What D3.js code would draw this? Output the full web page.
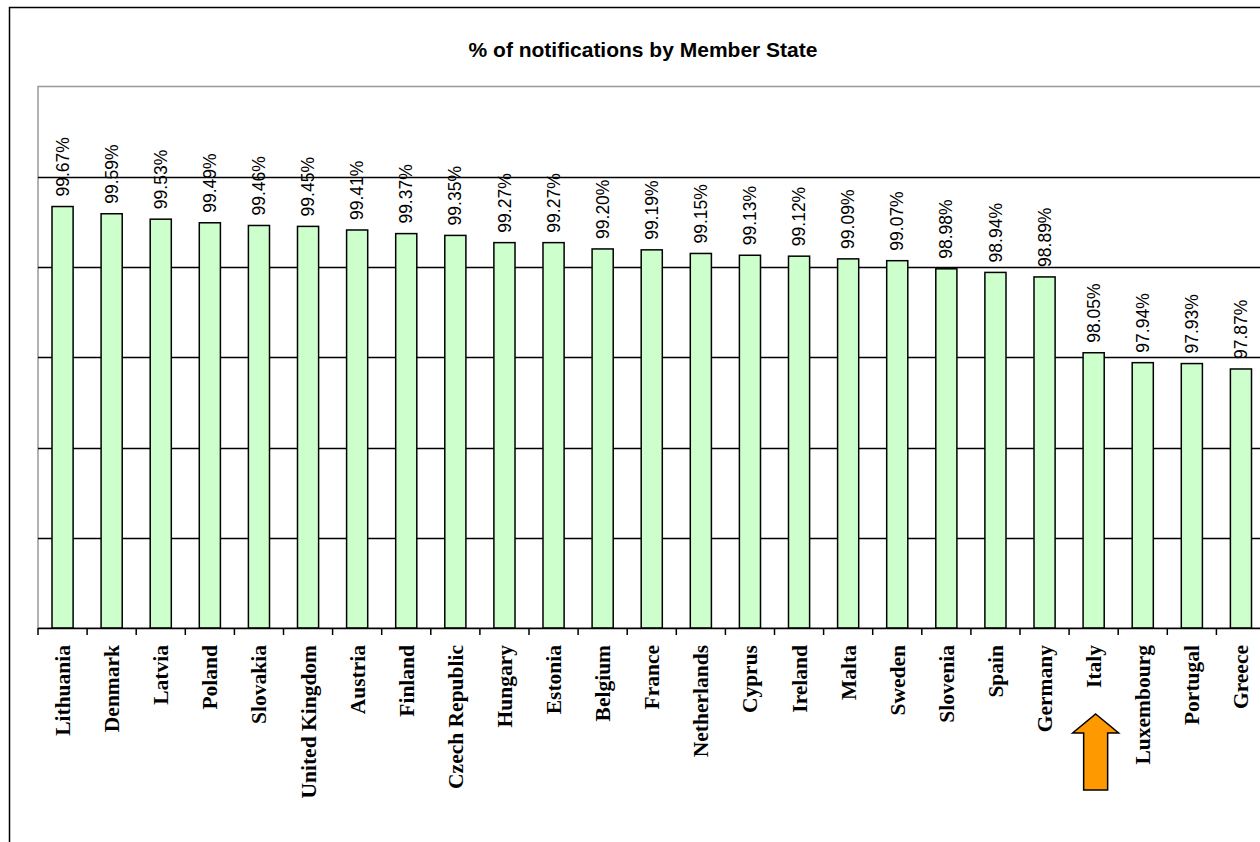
<!DOCTYPE html>
<html>
<head>
<meta charset="utf-8">
<script src="https://cdn.jsdelivr.net/npm/d3@7"></script>
<style>
  html, body { margin: 0; padding: 0; background: #fff; }
  svg { display: block; }
</style>
</head>
<body>
<svg id="chart" width="1260" height="842"></svg>
<script>
const categories = ["Lithuania","Denmark","Latvia","Poland","Slovakia","United Kingdom","Austria","Finland","Czech Republic","Hungary","Estonia","Belgium","France","Netherlands","Cyprus","Ireland","Malta","Sweden","Slovenia","Spain","Germany","Italy","Luxembourg","Portugal","Greece"];
const values = [99.67,99.59,99.53,99.49,99.46,99.45,99.41,99.37,99.35,99.27,99.27,99.20,99.19,99.15,99.13,99.12,99.09,99.07,98.98,98.94,98.89,98.05,97.94,97.93,97.87];
const valueLabels = ["99.67%","99.59%","99.53%","99.49%","99.46%","99.45%","99.41%","99.37%","99.35%","99.27%","99.27%","99.20%","99.19%","99.15%","99.13%","99.12%","99.09%","99.07%","98.98%","98.94%","98.89%","98.05%","97.94%","97.93%","97.87%"];
const yTicks = [96, 97, 98, 99, 100];
const yDomain = [95, 101];
const chartTitle = "% of notifications by Member State";
const highlighted = "Italy";

const svg = d3.select("#chart");
const pLeft = 38, pTop = 86.5, pBottom = 628, pStep = 49.1;
const pRight = pLeft + categories.length * pStep;

const x = d3.scaleBand().domain(categories).range([pLeft, pRight]).paddingInner(0.57).paddingOuter(0.285);
const y = d3.scaleLinear().domain(yDomain).range([pBottom, pTop]);

// outer frame
svg.append("rect").attr("x", 9.5).attr("y", 7.5).attr("width", 1400).attr("height", 1000)
  .attr("fill", "none").attr("stroke", "#000").attr("stroke-width", 1.5);

// title
svg.append("text").attr("x", 643).attr("y", 57)
  .attr("text-anchor", "middle")
  .style("font-family", "'Liberation Sans', Arial, sans-serif")
  .style("font-weight", "bold").style("font-size", "21px")
  .text(chartTitle);

// plot area border
svg.append("rect").attr("x", pLeft).attr("y", pTop).attr("width", pRight - pLeft + 60).attr("height", pBottom - pTop)
  .attr("fill", "none").attr("stroke", "#999").attr("stroke-width", 1.5);

// gridlines
svg.append("g").selectAll("line").data(yTicks).join("line")
  .attr("x1", pLeft).attr("x2", pRight + 60)
  .attr("y1", d => Math.round(y(d)) + 0.5).attr("y2", d => Math.round(y(d)) + 0.5)
  .attr("stroke", "#000").attr("stroke-width", 1.3);

// bars
svg.append("g").selectAll("rect").data(categories).join("rect")
  .attr("x", d => x(d)).attr("width", x.bandwidth())
  .attr("y", (d, i) => y(values[i])).attr("height", (d, i) => pBottom - y(values[i]))
  .attr("fill", "#CCFFCC").attr("stroke", "#000").attr("stroke-width", 1.5);

// value labels
svg.append("g").selectAll("text").data(categories).join("text")
  .attr("transform", (d, i) => `translate(${x(d) + x.bandwidth() / 2},${y(values[i]) - 10}) rotate(-90)`)
  .attr("dy", "0.35em")
  .style("font-family", "'Liberation Sans', Arial, sans-serif")
  .style("font-size", "17.5px").attr("fill", "#000")
  .text((d, i) => valueLabels[i]);

// x axis
const xAxis = d3.axisBottom(x).tickSize(0).tickPadding(0);
const gx = svg.append("g").attr("transform", `translate(0,${pBottom})`).call(xAxis);
gx.select(".domain").attr("stroke", "#000").attr("stroke-width", 1.5).attr("d", `M${pLeft},0.5H${pRight + 60}`);
gx.selectAll(".tick text")
  .attr("transform", "translate(0,17) rotate(-90)")
  .attr("x", 0).attr("y", 0).attr("dy", "0.35em")
  .attr("text-anchor", "end")
  .style("font-family", "'Liberation Serif', 'Times New Roman', serif")
  .style("font-weight", "bold").style("font-size", "21.5px").attr("fill", "#000");

// boundary ticks
const boundaries = categories.map(c => x(c) - (x.step() - x.bandwidth()) / 2).concat([pRight]);
svg.append("g").selectAll("line").data(boundaries).join("line")
  .attr("x1", d => d).attr("x2", d => d)
  .attr("y1", pBottom).attr("y2", pBottom + 7)
  .attr("stroke", "#000").attr("stroke-width", 1.5);

// highlight arrow under Italy
const ax = x(highlighted) + x.bandwidth() / 2 + 2;
const arrow = d3.path();
arrow.moveTo(ax, 714);
arrow.lineTo(ax + 23, 733);
arrow.lineTo(ax + 12, 733);
arrow.lineTo(ax + 12, 790);
arrow.lineTo(ax - 12, 790);
arrow.lineTo(ax - 12, 733);
arrow.lineTo(ax - 23, 733);
arrow.closePath();
svg.append("path").attr("d", arrow.toString())
  .attr("fill", "#FF9900").attr("stroke", "#000").attr("stroke-width", 1.5);
</script>
</body>
</html>
